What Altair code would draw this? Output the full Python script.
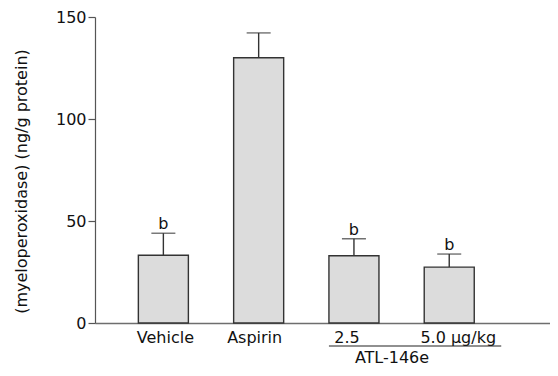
import altair as alt
import pandas as pd

categories = ["Vehicle", "Aspirin", "2.5", "5.0 μg/kg"]
means = [33.2, 130.0, 33.0, 27.4]
sems = [10.8, 12.2, 8.3, 6.4]
letters = ["b", "", "b", "b"]

df = pd.DataFrame({"cat": categories, "mean": means, "sem": sems, "letter": letters})

FONT = "DejaVu Sans"
FS = 16

xscale = alt.Scale(domain=categories, paddingInner=0.475, paddingOuter=0.625, align=0.364)
yscale = alt.Scale(domain=[0, 150])

base = alt.Chart(df).transform_calculate(top="datum.mean + datum.sem")

bars = base.mark_bar(fill="#dcdcdc", stroke="#333333", strokeWidth=1.4).encode(
    x=alt.X("cat:N", scale=xscale, sort=categories,
            axis=alt.Axis(title=None, labelAngle=0, ticks=False, domainColor="#6e6e6e",
                          domainWidth=1.5, labelFont=FONT, labelFontSize=FS, labelColor="#111",
                          labelPadding=6,
                          labelOffset={"condition": [{"test": "datum.value === '2.5'", "value": -7},
                                                     {"test": "datum.value === '5.0 μg/kg'", "value": 9},
                                                     {"test": "datum.value === 'Aspirin'", "value": -4},
                                                     {"test": "datum.value === 'Vehicle'", "value": 2}],
                                       "value": 0})),
    y=alt.Y("mean:Q", scale=yscale,
            axis=alt.Axis(title="(myeloperoxidase) (ng/g protein)", values=[0, 50, 100, 150],
                          grid=False, tickSize=7, tickColor="#555", tickWidth=1.2,
                          domainColor="#555", domainWidth=1.2,
                          labelFont=FONT, labelFontSize=FS, labelColor="#111", labelPadding=2,
                          titleFont=FONT, titleFontSize=FS, titleFontWeight="normal",
                          titleColor="#111", titlePadding=26, titleY=164)),
)

err = base.mark_rule(color="#333333", strokeWidth=1.4).encode(
    x=alt.X("cat:N", scale=xscale, sort=categories),
    y=alt.Y("mean:Q", scale=yscale),
    y2="top:Q",
)

cap = base.mark_tick(color="#333333", thickness=1.4, size=24, orient="horizontal").encode(
    x=alt.X("cat:N", scale=xscale, sort=categories),
    y=alt.Y("top:Q", scale=yscale),
)

txt = base.mark_text(font=FONT, fontSize=FS, color="#111", baseline="alphabetic", dy=-4).encode(
    x=alt.X("cat:N", scale=xscale, sort=categories),
    y=alt.Y("top:Q", scale=yscale),
    text="letter:N",
)

underline = alt.Chart(pd.DataFrame({"a": [0]})).mark_rule(
    color="#222", strokeWidth=1.2, x2Offset=52
).encode(
    x=alt.X(datum="2.5", scale=xscale, bandPosition=0),
    x2=alt.X2(datum="5.0 μg/kg"),
    y=alt.value(329),
)

atl = alt.Chart(pd.DataFrame({"t": ["ATL-146e"]})).mark_text(
    font=FONT, fontSize=FS, color="#111", baseline="alphabetic", align="center"
).encode(
    x=alt.value(297),
    y=alt.value(346),
    text="t:N",
)

chart = alt.layer(bars, err, cap, txt, underline, atl).properties(
    width=455, height=306,
    autosize=alt.AutoSizeParams(type="none"),
    padding={"left": 87, "top": 9, "right": 0, "bottom": 45},
).configure_view(stroke=None)

chart.save("out.html", embed_options={"renderer": "svg", "actions": False})
